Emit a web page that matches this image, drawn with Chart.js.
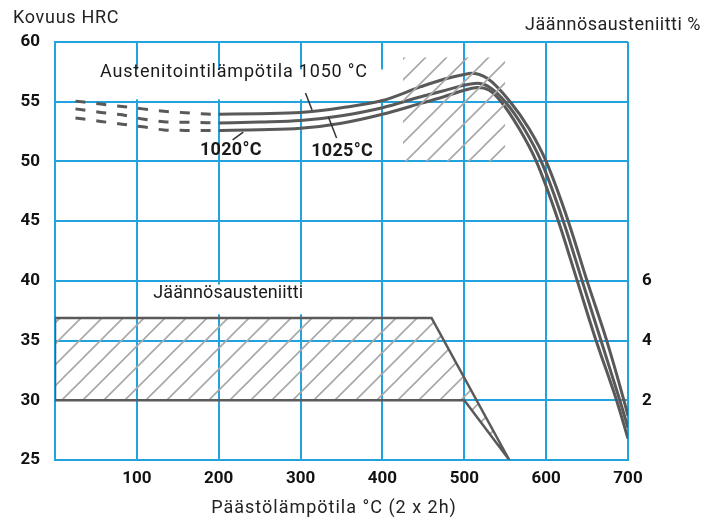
<!DOCTYPE html>
<html>
<head>
<meta charset="utf-8">
<script src="https://cdn.jsdelivr.net/npm/chart.js@4.4.1/dist/chart.umd.min.js"></script>
<style>
  html, body { margin: 0; padding: 0; background: #fff; }
  #wrap { width: 707px; height: 519px; position: relative; }
</style>
</head>
<body>
<div id="wrap"><canvas id="c" width="707" height="519"></canvas></div>
<script>
// ---- Data ----
const xTicks = [100, 200, 300, 400, 500, 600, 700];
const hrcTicks = [25, 30, 35, 40, 45, 50, 55, 60];
const austeniteTicks = [2, 4, 6];

// dashed (extrapolated) part of the curves
const dashX    = [25, 56, 82, 107, 133, 159, 185, 200];
const dash1050 = [55.05, 54.8, 54.6, 54.4, 54.2, 54.08, 53.97, 53.95];
const dash1025 = [54.4, 54.1, 53.9, 53.55, 53.33, 53.28, 53.24, 53.22];
const dash1020 = [53.64, 53.35, 53.12, 52.9, 52.64, 52.6, 52.58, 52.6];

// solid part of the curves
const x1050 = [200, 250, 300, 350, 400, 447, 475, 501, 508, 528, 556, 579, 600, 627, 650, 674, 695, 700];
const y1050 = [53.95, 54.0, 54.1, 54.5, 55.1, 56.26, 56.88, 57.3, 57.38, 56.96, 55, 52.75, 50, 45, 40, 35, 30, 28.7];
const x1025 = [200, 250, 300, 350, 400, 447, 475, 501, 516, 530, 550, 573, 594, 621, 644, 667, 690, 700];
const y1025 = [53.22, 53.3, 53.42, 53.83, 54.5, 55.42, 55.92, 56.4, 56.54, 56.26, 55, 52.75, 50, 45, 40, 35, 30, 27.7];
const x1020 = [200, 250, 300, 350, 400, 447, 475, 501, 516, 530, 545, 567, 588, 615, 638, 661, 686, 700];
const y1020 = [52.6, 52.65, 52.77, 53.2, 53.95, 54.86, 55.42, 55.98, 56.2, 55.98, 55, 52.75, 50, 45, 40, 35, 30, 26.8];

// hatched hardness window
const windowX = [425, 550];
const windowTop = 58.7;
const windowBottom = 50;

// retained austenite band (closed polygon)
const bandX = [0, 0, 460, 555, 500, 0];
const bandY = [30, 36.9, 36.9, 25, 30, 30];

// ---- styling ----
const BLUE = '#22a3de';
const CURVE = '#595959';
const FONT = 'Roboto, "Noto Sans", sans-serif';

function pts(xs, ys) { return xs.map((x, i) => ({ x: x, y: ys[i] })); }

const ctx = document.getElementById('c').getContext('2d');

function hatchPattern() {
  const s = 21;
  const c = document.createElement('canvas');
  c.width = s; c.height = s;
  const g = c.getContext('2d');
  g.strokeStyle = '#a8a8a8';
  g.lineWidth = 1.6;
  g.beginPath();
  g.moveTo(-2, s + 2); g.lineTo(s + 2, -2);
  g.moveTo(-s / 2, s / 2); g.lineTo(s / 2, -s / 2);
  g.moveTo(s / 2, s * 1.5); g.lineTo(s * 1.5, s / 2);
  g.stroke();
  return ctx.createPattern(c, 'repeat');
}
const HATCH = hatchPattern();

const curveBase = { borderColor: CURVE, borderWidth: 3, pointRadius: 0, fill: false,
  cubicInterpolationMode: 'monotone', yAxisID: 'y' };
const dashBase = Object.assign({}, curveBase, { borderDash: [10, 11], borderCapStyle: 'butt' });

function drawText(g, txt, x, y, size, weight, spacing) {
  g.font = (weight ? weight + ' ' : '') + size + 'px ' + FONT;
  g.letterSpacing = (spacing || 0) + 'px';
  g.fillText(txt, x, y);
  g.letterSpacing = '0px';
}

const annotations = {
  id: 'annotations',
  beforeDatasetsDraw(chart) {
    const g = chart.ctx, xs = chart.scales.x, ys = chart.scales.y;
    const px = v => xs.getPixelForValue(v), py = v => ys.getPixelForValue(v);
    g.save();
    g.fillStyle = '#fff';
    g.fillRect(px(53), py(57.7), px(405) - px(53), py(55.2) - py(57.7));
    g.fillRect(px(115), py(39.7), px(322) - px(115), py(37.2) - py(39.7));
    g.restore();
  },
  afterDatasetsDraw(chart) {
    const g = chart.ctx, xs = chart.scales.x, ys = chart.scales.y;
    const px = v => xs.getPixelForValue(v), py = v => ys.getPixelForValue(v);
    g.save();
    g.fillStyle = '#1a1a1a';
    g.textBaseline = 'middle';
    g.textAlign = 'left';
    drawText(g, 'Austenitointilämpötila 1050 °C', px(55), py(57.45), 18, '', 0.8);
    drawText(g, 'Jäännösausteniitti', px(120), py(38.95), 18, '', 0.1);
    drawText(g, '1020°C', px(177), py(50.95), 18, 'bold', 0.3);
    drawText(g, '1025°C', px(313), py(50.8), 18, 'bold', 0.3);
    g.strokeStyle = '#333';
    g.lineWidth = 1.5;
    const lines = [[306, 55.73, 314, 54.3], [334, 53.72, 344, 51.96], [217, 51.8, 230, 52.46]];
    lines.forEach(l => { g.beginPath(); g.moveTo(px(l[0]), py(l[1])); g.lineTo(px(l[2]), py(l[3])); g.stroke(); });
    g.fillStyle = '#222';
    drawText(g, 'Kovuus HRC', 13, 18, 18, '', 0.7);
    g.textAlign = 'right';
    drawText(g, 'Jäännösausteniitti %', 701, 25, 18, '', 0.5);
    g.textAlign = 'center';
    drawText(g, 'Päästölämpötila °C (2 x 2h)', 334, 508, 18, '', 1.0);
    g.restore();
  }
};

const bgPlugin = {
  id: 'bg',
  beforeDraw(chart) { const g = chart.ctx; g.save(); g.fillStyle = '#fff'; g.fillRect(0, 0, chart.width, chart.height); g.restore(); }
};

new Chart(ctx, {
  type: 'line',
  data: {
    datasets: [
      { data: pts(bandX, bandY), borderColor: '#5a5a5a', borderWidth: 2.5, backgroundColor: HATCH,
        fill: 'shape', pointRadius: 0, tension: 0, yAxisID: 'y', borderJoinStyle: 'miter' },
      { data: pts(windowX, [windowTop, windowTop]), borderWidth: 0, borderColor: 'rgba(0,0,0,0)',
        backgroundColor: HATCH, fill: { value: windowBottom }, pointRadius: 0, yAxisID: 'y' },
      Object.assign({}, dashBase, { data: pts(dashX, dash1050) }),
      Object.assign({}, dashBase, { data: pts(dashX, dash1025) }),
      Object.assign({}, dashBase, { data: pts(dashX, dash1020) }),
      Object.assign({}, curveBase, { data: pts(x1050, y1050) }),
      Object.assign({}, curveBase, { data: pts(x1025, y1025) }),
      Object.assign({}, curveBase, { data: pts(x1020, y1020) })
    ]
  },
  options: {
    responsive: false,
    animation: false,
    layout: { padding: { top: 42, left: 0, right: 0, bottom: 0 } },
    plugins: { legend: { display: false }, tooltip: { enabled: false }, title: { display: false } },
    scales: {
      x: {
        type: 'linear', min: 0, max: 700,
        afterBuildTicks: s => { s.ticks = [0].concat(xTicks).map(v => ({ value: v })); },
        ticks: { callback: v => (v === 0 ? '' : String(v)), color: '#111', padding: 9, maxRotation: 0,
          font: { family: FONT, size: 17, weight: 'bold' } },
        grid: { color: BLUE, lineWidth: 2, drawTicks: false },
        border: { display: true, color: BLUE, width: 2 },
        afterFit: s => { s.height = 59; }
      },
      y: {
        position: 'left', min: 25, max: 60,
        afterBuildTicks: s => { s.ticks = hrcTicks.map(v => ({ value: v })); },
        ticks: { color: '#111', padding: 15, font: { family: FONT, size: 17, weight: 'bold' } },
        grid: { color: BLUE, lineWidth: 2, drawTicks: false },
        border: { display: true, color: BLUE, width: 2 },
        afterFit: s => { s.width = 55; }
      },
      y2: {
        position: 'right', min: 0, max: 14,
        afterBuildTicks: s => { s.ticks = austeniteTicks.map(v => ({ value: v })); },
        ticks: { color: '#111', padding: 14, font: { family: FONT, size: 17, weight: 'bold' } },
        grid: { display: false, drawTicks: false },
        border: { display: false },
        afterFit: s => { s.width = 79; }
      }
    }
  },
  plugins: [bgPlugin, annotations]
});
</script>
</body>
</html>
